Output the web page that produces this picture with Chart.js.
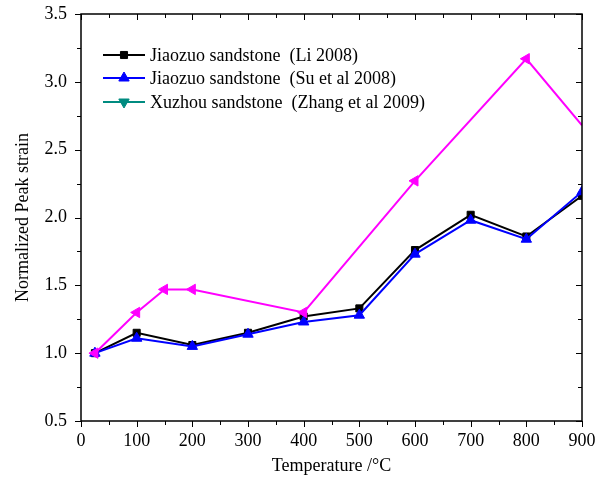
<!DOCTYPE html>
<html><head><meta charset="utf-8">
<script src="https://cdn.jsdelivr.net/npm/chart.js@4"></script>
<style>html,body{margin:0;padding:0;background:#fff}#wrap{width:599px;height:477px}</style>
</head><body><div id="wrap"><canvas id="c" width="599" height="477"></canvas></div>
<script>
const temps = [25,100,200,300,400,500,600,700,800,900];
const liStrain = [1.0,1.15,1.06,1.15,1.27,1.33,1.76,2.02,1.86,2.16];
const suStrain = [1.0,1.11,1.05,1.14,1.23,1.28,1.73,1.98,1.84,2.19];
const zhangTemps = [25,100,150,200,400,600,800,900];
const zhangStrain = [1.0,1.30,1.47,1.47,1.30,2.27,3.17,2.68];
const legendLabels = ["Jiaozuo sandstone  (Li 2008)","Jiaozuo sandstone  (Su et al 2008)","Xuzhou sandstone  (Zhang et al 2009)"];
const xTitle = "Temperature /\u00B0C";
const yTitle = "Normalized Peak strain";

const FONT = "'Liberation Serif','Times New Roman',serif";
const pts = (xs, ys) => xs.map((x,i)=>({x:x,y:ys[i]}));

const legendItems = [
  {color:'#000000', style:'rect', rot:0},
  {color:'#0000FF', style:'triangle', rot:0},
  {color:'#008B80', style:'triangle', rot:180}
];

const frame = {
  id:'frame',
  afterDraw(chart){
    const ctx = chart.ctx, a = chart.chartArea;
    const xs = chart.scales.x, ys = chart.scales.y;
    ctx.save();
    ctx.strokeStyle='#000'; ctx.lineWidth=1.5;
    ctx.strokeRect(a.left, a.top, a.right-a.left, a.bottom-a.top);
    ctx.lineWidth=1;
    ctx.beginPath();
    for(let v=0; v<=900; v+=50){
      const p = Math.round(xs.getPixelForValue(v))+0.5;
      const major = v%100===0;
      const L = major?6:4;
      ctx.moveTo(p,a.bottom); ctx.lineTo(p,a.bottom+L);
      ctx.moveTo(p,a.top); ctx.lineTo(p,a.top+L);
    }
    for(let v=0.5; v<=3.5001; v+=0.25){
      const p = Math.round(ys.getPixelForValue(v))+0.5;
      const major = Math.abs(v*2-Math.round(v*2))<1e-6;
      const L = major?6:4;
      ctx.moveTo(a.left,p); ctx.lineTo(a.left-L,p);
      ctx.moveTo(a.right,p); ctx.lineTo(a.right-L,p);
    }
    ctx.stroke();
    // legend
    const x0=103, x1=145, xm=124, tx=150;
    const rows=[55,78,102];
    ctx.font = "18px "+FONT;
    ctx.textBaseline='middle'; ctx.textAlign='left';
    legendItems.forEach((it,i)=>{
      const y=rows[i];
      ctx.strokeStyle=it.color; ctx.lineWidth=2;
      ctx.beginPath(); ctx.moveTo(x0,y); ctx.lineTo(x1,y); ctx.stroke();
      ctx.fillStyle=it.color; ctx.lineWidth=1;
      Chart.helpers.drawPoint(ctx,{pointStyle:it.style,radius:it.style==='rect'?5:6,rotation:it.rot,borderWidth:1},xm,y);
      ctx.fillStyle='#000';
      ctx.fillText(legendLabels[i], tx, y+1);
    });
    ctx.restore();
  }
};

new Chart(document.getElementById('c'), {
  type:'scatter',
  data:{datasets:[
    {label:'Zhang', data:pts(zhangTemps,zhangStrain), showLine:true, borderColor:'#FF00FF', backgroundColor:'#FF00FF', borderWidth:2,
     pointStyle:'triangle', rotation:-90, pointRadius:[6,6,6,6,6,6,6,0], pointBorderWidth:1},
    {label:'Su', data:pts(temps,suStrain), showLine:true, borderColor:'#0000FF', backgroundColor:'#0000FF', borderWidth:2,
     pointStyle:'triangle', pointRadius:6, pointBorderWidth:1},
    {label:'Li', data:pts(temps,liStrain), showLine:true, borderColor:'#000000', backgroundColor:'#000000', borderWidth:2,
     pointStyle:'rect', pointRadius:5, pointBorderWidth:1}
  ]},
  options:{
    responsive:false, animation:false, devicePixelRatio:1,
    layout:{padding:{left:10,right:17,top:14,bottom:0}},
    plugins:{legend:{display:false}, tooltip:{enabled:false}},
    scales:{
      x:{type:'linear', min:0, max:900,
         ticks:{stepSize:100, color:'#000', font:{family:FONT,size:18}, padding:9, maxRotation:0},
         grid:{display:true, drawOnChartArea:false, drawTicks:false, tickLength:6},
         border:{display:false},
         title:{display:true, text:xTitle, color:'#000', font:{family:FONT,size:18}, padding:{top:0,bottom:0}},
         afterFit(s){ s.height = 56; s.paddingLeft = 0; s.paddingRight = 0; }},
      y:{type:'linear', min:0.5, max:3.5,
         ticks:{stepSize:0.5, color:'#000', font:{family:FONT,size:18}, padding:14, callback:v=>v.toFixed(1)},
         grid:{display:true, drawOnChartArea:false, drawTicks:false, tickLength:6},
         border:{display:false},
         title:{display:true, text:yTitle, color:'#000', font:{family:FONT,size:18}, padding:{top:2,bottom:4}},
         afterFit(s){ s.width = 71; s.paddingTop = 0; s.paddingBottom = 0; }}
    }
  },
  plugins:[frame]
});
</script></body></html>
